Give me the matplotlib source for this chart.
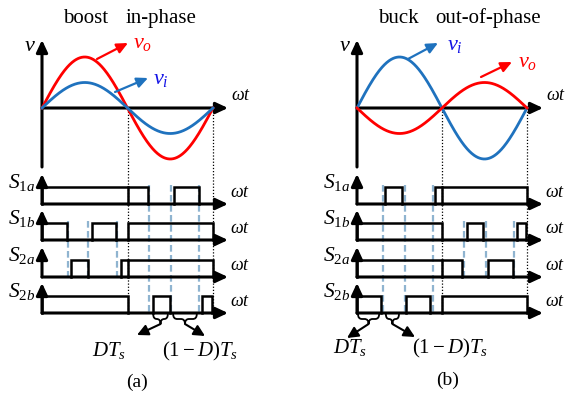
"""
Boost in-phase / buck out-of-phase operation: voltages and switch signals.
574 x 396 px schematic, drawn in pixel coordinates.
"""
import matplotlib
matplotlib.use('Agg')
import matplotlib.pyplot as plt
from matplotlib.path import Path
import matplotlib.patches as mpatches
import numpy as np

plt.rcParams['font.family'] = ['Liberation Serif', 'DejaVu Serif']
plt.rcParams['mathtext.fontset'] = 'custom'
plt.rcParams['mathtext.rm'] = 'Liberation Serif'
plt.rcParams['mathtext.it'] = 'Liberation Serif:italic'
plt.rcParams['mathtext.bf'] = 'Liberation Serif:bold'

# ── Data (ωt in degrees, voltages normalised) ─────────────────────────────────
WT = np.linspace(0, 360, 361)
AMP_VO_A, AMP_VI_A = 1.0, 0.5      # (a) boost, in-phase
AMP_VI_B, AMP_VO_B = 1.0, -0.5     # (b) buck, out-of-phase

SW_NAMES = ['1a', '1b', '2a', '2b']
# on-intervals of each switch signal
S1A_ON_A = [(0, 223), (278, 330)]
S1B_ON_A = [(0, 53), (105, 156), (180, 360)]
S2A_ON_A = [(61, 97), (166, 360)]
S2B_ON_A = [(0, 180), (234, 269), (337, 358)]
S1A_ON_B = [(59, 95), (165, 360)]
S1B_ON_B = [(0, 180), (233, 267), (339, 358)]
S2A_ON_B = [(0, 222), (278, 330)]
S2B_ON_B = [(0, 51), (104, 155), (180, 360)]

# switching instants (dashed guides): (angles, first row, last row)
EDGES_A = [([55, 97, 158], 1, 2), ([225, 272, 330], 0, 3)]
EDGES_B = [([55, 102, 161], 0, 3), ([227, 273, 333], 1, 2)]

# braces marking DTs and (1-D)Ts
BRACE_A = [(232, 267), (274, 328)]
BRACE_B = [(0, 49), (59, 91)]

# ── Geometry ──────────────────────────────────────────────────────────────────
RED = '#FF0000'
BLUE = '#1F72BE'
BLUE_TXT = '#1414E6'
DASH = '#8FB4D0'
Y_AX = 108          # top plot zero line
A_PX = 51           # px per unit amplitude
ROW_BASE = [204, 240, 277, 313]
ROW_H = 17

fig = plt.figure(figsize=(5.74, 3.96), dpi=100)
ax = fig.add_axes([0, 0, 1, 1])
ax.set_xlim(0, 574)
ax.set_ylim(396, 0)
ax.axis('off')


def arrow(p0, p1, lw=2.2, color='k', hl=0.6, hw=0.28, ms=12):
    ax.annotate('', xy=p1, xytext=p0,
                arrowprops=dict(arrowstyle=f'-|>,head_length={hl},head_width={hw}',
                                lw=lw, color=color, shrinkA=0, shrinkB=0,
                                mutation_scale=ms))


def brace(x0, x1, y0, h=10, color='k', lw=1.3):
    xm, ym, r = (x0 + x1) / 2, y0 + h / 2, min(4, (x1 - x0) / 4)
    verts = [(x0, y0), (x0, ym), (x0 + r, ym),
             (xm - r, ym), (xm, ym), (xm, y0 + h),
             (xm, ym), (xm + r, ym),
             (x1 - r, ym), (x1, ym), (x1, y0)]
    codes = [Path.MOVETO, Path.CURVE3, Path.CURVE3,
             Path.LINETO, Path.CURVE3, Path.CURVE3,
             Path.CURVE3, Path.CURVE3,
             Path.LINETO, Path.CURVE3, Path.CURVE3]
    ax.add_patch(mpatches.PathPatch(Path(verts, codes), fc='none',
                                    ec=color, lw=lw))
    return xm, y0 + h


def panel(x0, x360, curves, on_lists, edges, braces, brace_lbl, title, tag):
    sx = (x360 - x0) / 360.0
    X = lambda d: x0 + np.asarray(d) * sx

    # dotted guides at half and full period
    for d in (180, 360):
        ax.plot([X(d), X(d)], [Y_AX, ROW_BASE[-1]], color='k', lw=0.9,
                ls=(0, (1, 1.5)), zorder=1)

    # voltage axes + sines
    arrow((x0, 167), (x0, 40))
    arrow((x0, Y_AX), (x0 + 186, Y_AX))
    for amp, col in curves:
        ax.plot(X(WT), Y_AX - A_PX * amp * np.sin(np.radians(WT)),
                color=col, lw=2.0, zorder=3)
    ax.text(x0 - 6, 51, '$v$', fontsize=16, ha='right', va='baseline')
    ax.text(x0 + 189, Y_AX - 8, r'$\omega t$', fontsize=13, ha='left',
            va='baseline')

    # switch signals
    for i, (name, ons) in enumerate(zip(SW_NAMES, on_lists)):
        yb = ROW_BASE[i]
        yh = yb - ROW_H
        arrow((x0, yb), (x0, yb - 30))
        arrow((x0, yb), (x0 + 186, yb))
        for s, e in ons:
            ax.plot([X(s), X(s), X(e), X(e)], [yb, yh, yh, yb],
                    color='k', lw=1.8, zorder=4, solid_joinstyle='miter')
            if s < 180 < e:
                ax.plot([X(180), X(180)], [yb, yh], color='k', lw=1.8, zorder=4)
        ax.text(x0 - 7, yh + 1, r'$S_{\mathrm{%s}%s}$' % (name[0], name[1]),
                fontsize=15.5, ha='right', va='baseline')
        ax.text(x0 + 188, yb - 7, r'$\omega t$', fontsize=13, ha='left',
                va='baseline')

    # dashed switching instants
    for angs, r0, r1 in edges:
        for d in angs:
            ax.plot([X(d), X(d)], [ROW_BASE[r0] - ROW_H - 2, ROW_BASE[r1]],
                    color=DASH, lw=1.6, ls=(0, (3, 1.5)), zorder=2)

    # braces with pointer arrows
    for (s, e), (lbl, tx, ty, ax_, ay_) in zip(braces, brace_lbl):
        xm, yt = brace(X(s) + 1, X(e) - 1, ROW_BASE[-1] + 1)
        arrow((xm, yt), (ax_, ay_), lw=1.5, hl=0.6, hw=0.3, ms=11)
        ax.text(tx, ty, lbl, fontsize=15, ha='center', va='baseline')

    # titles
    for word, cx in title:
        ax.text(cx, 23, word, fontsize=15, ha='center', va='baseline')
    ax.text(tag[1], tag[2], tag[0], fontsize=14, ha='center', va='center')
    return X


# ── (a) boost, in-phase ───────────────────────────────────────────────────────
panel(42, 213,
      [(AMP_VO_A, RED), (AMP_VI_A, BLUE)],
      [S1A_ON_A, S1B_ON_A, S2A_ON_A, S2B_ON_A],
      EDGES_A, BRACE_A,
      [('$DT_s$', 109, 356, 137, 335),
       (r'$(\mathit{1}-D)T_s$', 200, 356, 205, 336)],
      [('boost', 86), ('in-phase', 161)],
      ('(a)', 137, 382))
arrow((97, 59), (128, 43), lw=1.6, color=RED, ms=11)
arrow((115, 92), (148, 78), lw=1.6, color=BLUE, ms=11)
ax.text(133, 48, '$v_o$', fontsize=16, color=RED, va='baseline')
ax.text(153, 84, '$v_i$', fontsize=16, color=BLUE_TXT, va='baseline')

# ── (b) buck, out-of-phase ────────────────────────────────────────────────────
panel(357, 527,
      [(AMP_VI_B, BLUE), (AMP_VO_B, RED)],
      [S1A_ON_B, S1B_ON_B, S2A_ON_B, S2B_ON_B],
      EDGES_B, BRACE_B,
      [('$DT_s$', 350, 353, 347, 338),
       (r'$(\mathit{1}-D)T_s$', 450, 353, 415, 337)],
      [('buck', 398), ('out-of-phase', 488)],
      ('(b)', 448, 380))
arrow((408, 59), (438, 43), lw=1.6, color=BLUE, ms=11)
arrow((481, 77), (512, 62), lw=1.6, color=RED, ms=11)
ax.text(447, 50, '$v_i$', fontsize=16, color=BLUE_TXT, va='baseline')
ax.text(518, 67, '$v_o$', fontsize=16, color=RED, va='baseline')

plt.savefig('out.png', dpi=100, facecolor='white')
plt.close()
